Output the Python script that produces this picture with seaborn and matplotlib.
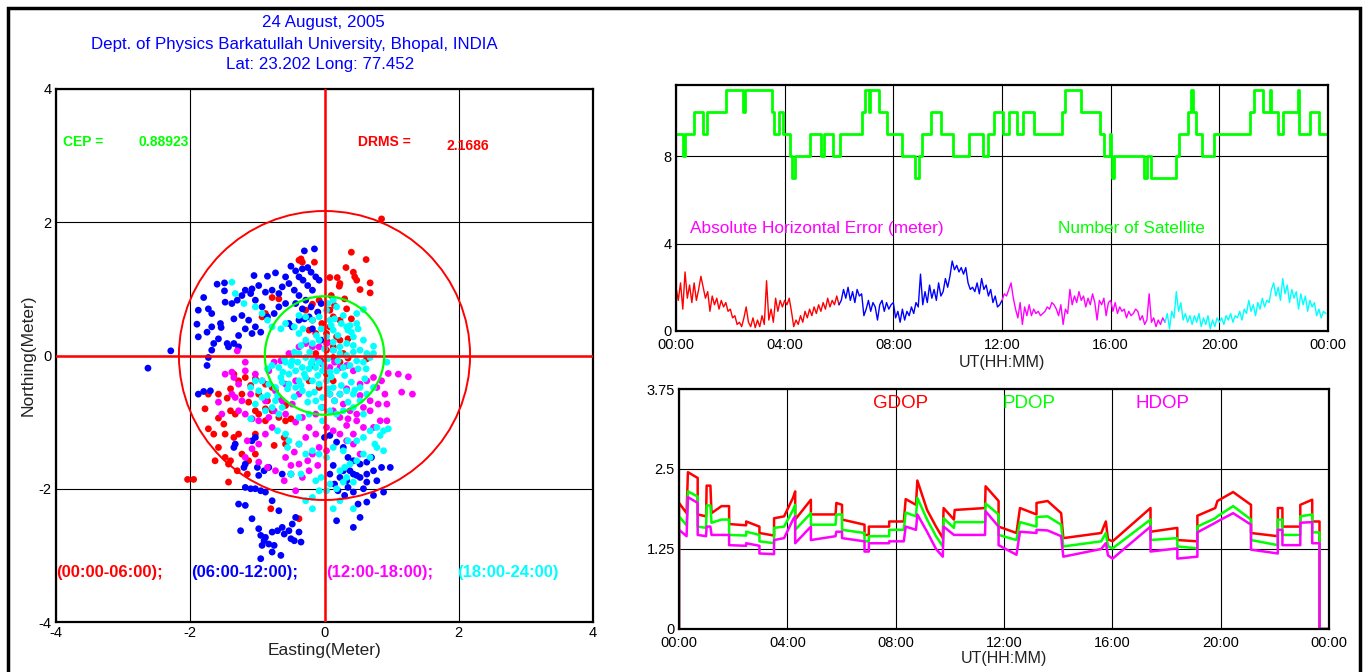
import numpy as np
import pandas as pd
import matplotlib
matplotlib.use("Agg")
import matplotlib.pyplot as plt
import seaborn as sns
from matplotlib.patches import Circle, Rectangle

sns.set_theme(style="white")
plt.rcParams['font.family'] = ['Liberation Sans', 'DejaVu Sans']
plt.rcParams['axes.unicode_minus'] = False

RED, BLUE, MAG, CYAN, GREEN = '#ff0000', '#0000ff', '#ff00ff', '#00ffff', '#00ff00'

# ---------------- scatter data: (Easting, Northing) in metres ----------------
pts_00_06 = [(0.40, 1.55), (0.62, 1.44), (0.32, 1.32), (0.43, 1.25), (0.19, 1.17), (0.08, 1.17),
             (0.23, 1.08), (0.22, 1.04), (0.48, 1.13), (0.68, 1.09), (0.53, 0.99), (0.68, 0.94),
             (0.45, 1.18), (0.33, 0.70), (0.23, 0.53), (0.13, 0.58), (0.08, 0.68), (-0.08, 0.83),
             (-0.18, 0.77), (-0.28, 0.68), (0.18, 0.28), (0.23, 0.23), (0.08, 0.43), (0.03, 0.33),
             (-0.13, 0.33), (-0.23, 0.38), (-0.18, 0.53), (-0.04, 0.48), (0.13, 0.13), (0.28, 0.03),
             (0.35, -0.04), (0.63, -0.05), (-0.33, 1.40), (-0.35, 1.45), (-0.15, 1.40), (-0.38, 1.43),
             (-0.78, 0.87), (-0.68, 0.85), (-0.93, 0.58), (-0.88, 0.63), (0.85, 2.05), (-1.78, -0.80),
             (-1.58, -0.58), (-1.45, -0.64), (-1.40, -0.83), (-1.50, -1.03), (-1.58, -0.94), (-1.73, -1.10),
             (-1.65, -1.18), (-1.48, -1.18), (-1.35, -1.23), (-1.28, -1.18), (-1.58, -1.38), (-1.48, -1.53),
             (-1.40, -1.58), (-1.63, -1.58), (-1.43, -1.63), (-1.30, -1.73), (-1.15, -1.78), (-1.43, -1.90),
             (-2.04, -1.86), (-1.95, -1.86), (-1.33, -0.88), (-1.23, -0.58), (-1.13, -0.70), (-1.03, -0.83),
             (-0.98, -0.88), (-0.88, -0.80), (-0.78, -0.83), (-0.68, -0.93), (-0.58, -0.98), (-0.50, -0.95),
             (-0.58, -0.75), (-0.68, -0.63), (-0.85, -0.68), (-1.28, -0.38), (-1.10, -0.45), (-0.98, -0.58),
             (-1.40, -0.50), (-1.35, -0.28), (-1.18, -0.33), (-1.03, -0.35), (-0.88, -0.43), (-0.78, -0.48),
             (-0.60, -1.23), (-0.75, -1.35), (-0.58, -1.33), (-0.80, -2.30), (-0.38, -2.45), (-1.13, -1.58),
             (-1.03, -1.48), (-1.23, -1.48), (-1.73, -0.58), (-1.03, -1.18), (-0.88, -0.98), (-0.13, 0.03),
             (0.03, 0.08), (-0.05, -0.08), (0.13, -0.03), (-0.18, -0.15), (0.23, -0.10), (0.03, -0.28),
             (-0.08, -0.48), (-0.23, -0.38), (0.13, -0.38), (0.10, 0.90), (0.30, 0.85), (0.40, 0.55),
             (0.05, 0.20), (0.35, 0.25), (-0.10, 0.65), (0.15, 0.75)]

pts_06_12 = [(-0.30, 1.57), (-0.15, 1.60), (-0.50, 1.34), (-0.43, 1.27), (-0.33, 1.30), (-0.25, 1.32),
             (-0.20, 1.25), (-0.13, 1.18), (-0.08, 1.13), (-0.38, 1.18), (-0.32, 1.13), (-0.25, 1.05),
             (-0.18, 0.98), (-0.58, 1.18), (-0.73, 1.24), (-0.85, 1.19), (-1.05, 1.20), (-1.18, 0.98),
             (-1.08, 1.00), (-0.98, 1.05), (-0.88, 0.95), (-0.78, 0.98), (-0.68, 0.93), (-0.63, 1.03),
             (-0.53, 1.08), (-0.45, 0.98), (-0.38, 0.90), (-0.28, 0.83), (-0.20, 0.73), (-0.33, 0.70),
             (-0.43, 0.78), (-0.58, 0.78), (-0.68, 0.73), (-0.75, 0.63), (-0.85, 0.58), (-0.93, 0.73),
             (-1.03, 0.83), (-1.10, 0.93), (-1.23, 0.90), (-1.30, 0.83), (-1.38, 0.78), (-1.48, 0.80),
             (-1.60, 1.07), (-1.49, 1.09), (-1.49, 0.97), (-1.80, 0.87), (-1.88, 0.68), (-1.73, 0.70),
             (-1.68, 0.63), (-1.55, 0.48), (-1.54, 0.42), (-1.68, 0.43), (-1.75, 0.35), (-1.88, 0.28),
             (-1.90, 0.47), (-1.35, 0.55), (-1.23, 0.60), (-1.13, 0.53), (-1.03, 0.43), (-0.95, 0.35),
             (-1.08, 0.33), (-1.18, 0.40), (-1.28, 0.30), (-1.35, 0.18), (-1.45, 0.18), (-1.58, 0.25),
             (-1.65, 0.18), (-1.68, 0.08), (-1.73, -0.03), (-1.75, -0.15), (-2.29, 0.07), (-2.63, -0.19),
             (-1.43, 0.13), (-1.28, 0.13), (-0.53, 0.48), (-0.48, 0.43), (-0.38, 0.53), (-0.30, 0.55),
             (-0.23, 0.58), (-0.10, 0.65), (-0.05, 0.78), (-0.05, 0.23), (-0.18, 0.40), (-1.88, -0.58),
             (-1.80, -0.54), (-1.70, -0.53), (-1.35, -1.38), (-1.33, -1.33), (-1.03, -1.23), (-1.08, -1.28),
             (0.00, -1.23), (0.08, -1.20), (0.18, -1.30), (0.28, -1.38), (0.35, -1.53), (0.43, -1.58),
             (0.53, -1.63), (0.63, -1.60), (0.70, -1.53), (0.73, -1.73), (0.85, -1.68), (0.98, -1.68),
             (0.63, -1.78), (0.53, -1.83), (0.43, -1.78), (0.33, -1.88), (0.23, -1.83), (0.15, -1.93),
             (0.20, -2.03), (0.35, -1.98), (0.43, -2.05), (0.58, -2.00), (0.63, -1.90), (0.78, -1.88),
             (0.88, -2.05), (0.73, -2.10), (0.63, -2.20), (0.50, -2.23), (0.30, -2.10), (0.18, -2.48),
             (0.43, -2.58), (0.53, -2.43), (0.08, -1.78), (0.13, -1.65), (0.28, -1.73), (0.38, -1.73),
             (0.48, -1.80), (-1.18, -1.98), (-1.10, -2.00), (-1.03, -2.00), (-0.95, -2.03), (-0.88, -2.05),
             (-1.28, -2.23), (-1.18, -2.25), (-1.08, -2.45), (-1.25, -2.63), (-0.98, -2.60), (-0.95, -2.70),
             (-0.90, -2.78), (-0.88, -2.73), (-0.83, -2.83), (-0.75, -2.85), (-0.78, -2.65), (-0.70, -2.63),
             (-0.63, -2.58), (-0.60, -2.68), (-0.53, -2.63), (-0.50, -2.75), (-0.45, -2.78), (-0.35, -2.80),
             (-0.38, -2.65), (-0.43, -2.43), (-0.48, -2.53), (-0.93, -2.85), (-0.65, -3.00), (-0.78, -2.95),
             (-0.95, -3.05), (-0.98, -1.80), (-0.90, -1.73), (-0.83, -1.68), (-0.63, -1.78), (-0.50, -1.78),
             (-1.20, -1.68), (-1.18, -1.63), (-1.00, -1.68), (-0.78, -2.18), (-0.68, -2.33)]

pts_12_18 = [(-1.30, 0.07), (-1.18, -0.10), (-1.38, -0.25), (-1.48, -0.28), (-1.58, -0.70), (-1.35, -0.33),
             (-1.28, -0.43), (-1.18, -0.23), (-1.03, -0.28), (-0.93, -0.38), (-0.83, -0.23), (-0.75, -0.10),
             (-0.65, -0.08), (-0.53, 0.03), (-0.38, 0.13), (-0.28, 0.18), (-0.18, 0.13), (-0.10, -0.05),
             (-0.03, -0.13), (0.08, -0.18), (0.15, -0.10), (0.23, -0.18), (0.33, -0.15), (0.43, -0.23),
             (0.63, -0.38), (0.73, -0.33), (0.78, -0.48), (0.85, -0.38), (0.95, -0.27), (1.10, -0.28),
             (1.25, -0.32), (1.15, -0.55), (1.31, -0.58), (0.90, -0.58), (0.80, -0.73), (0.93, -0.73),
             (0.68, -0.83), (0.58, -0.78), (0.48, -0.88), (0.38, -0.83), (0.28, -0.73), (0.15, -0.68),
             (0.08, -0.58), (0.23, -0.58), (0.33, -0.50), (0.13, -0.83), (0.23, -0.93), (0.35, -0.95),
             (0.48, -0.98), (0.58, -1.08), (0.43, -1.18), (0.33, -1.28), (0.23, -1.18), (0.13, -1.13),
             (0.03, -1.08), (-0.13, -1.18), (-0.23, -1.08), (-0.28, -1.23), (-0.38, -1.33), (-0.45, -1.45),
             (-0.58, -1.53), (-0.50, -1.65), (-0.38, -1.63), (-0.25, -1.58), (-0.18, -1.48), (-0.08, -1.38),
             (0.03, -1.43), (-0.10, -1.65), (-0.23, -1.73), (-0.33, -1.83), (-0.43, -2.03), (-0.60, -1.88),
             (-0.73, -1.73), (-0.85, -1.68), (-0.98, -1.60), (-1.18, -1.53), (-1.08, -1.40), (-1.15, -1.28),
             (-0.98, -1.33), (-0.88, -1.18), (-0.78, -1.08), (-1.18, -0.88), (-1.08, -0.95), (-0.98, -0.98),
             (-0.83, -0.93), (-1.23, -0.68), (-1.10, -0.58), (-1.33, -0.63), (-1.38, -0.58), (-1.53, -0.88),
             (-1.28, -0.83), (-0.88, -0.68), (-0.73, -0.53), (-0.58, -0.43), (-0.43, -0.38), (-0.38, -0.58),
             (-0.48, -0.73), (-0.58, -0.88), (-0.43, -1.00), (-0.33, -0.93), (-0.63, -0.68), (-0.75, -0.83),
             (-0.13, -0.88), (-0.03, -0.78), (0.43, -1.33), (0.53, -1.48), (0.33, -1.05), (0.73, -1.08),
             (0.83, -0.98), (0.93, -0.98), (-0.08, 0.13), (0.03, 0.18), (0.13, 0.08), (0.53, -0.43),
             (0.53, -0.60), (0.68, -0.68)]

pts_18_24 = [(-1.38, 1.10), (-1.33, 0.93), (-1.20, 0.78), (-1.03, 0.73), (-0.93, 0.63), (-0.85, 0.53),
             (-0.78, 0.43), (-0.65, 0.40), (-0.58, 0.48), (-0.45, 0.43), (-0.38, 0.33), (-0.28, 0.23),
             (-0.18, 0.18), (-0.08, 0.23), (0.03, 0.28), (0.13, 0.20), (0.23, 0.13), (0.33, 0.18),
             (0.43, 0.28), (0.58, 0.69), (0.48, 0.48), (0.35, 0.38), (0.53, 0.08), (0.63, 0.03),
             (0.73, 0.14), (0.43, 0.05), (0.33, 0.00), (0.23, 0.03), (0.13, 0.08), (0.03, -0.03),
             (-0.08, -0.10), (-0.18, -0.08), (-0.28, -0.03), (-0.38, 0.03), (-0.48, -0.08), (-0.58, -0.10),
             (-0.68, -0.18), (-0.78, -0.15), (-0.85, -0.20), (-0.65, -0.33), (-0.53, -0.28), (-0.43, -0.23),
             (-0.33, -0.18), (-0.23, -0.20), (-0.13, -0.18), (-0.03, -0.23), (0.08, -0.25), (0.18, -0.23),
             (0.28, -0.18), (0.38, -0.15), (0.48, -0.08), (0.58, -0.10), (0.68, -0.03), (0.93, -0.10),
             (-0.38, -0.38), (-0.28, -0.33), (-0.18, -0.38), (-0.08, -0.43), (0.03, -0.38), (0.13, -0.48),
             (0.23, -0.58), (0.33, -0.53), (0.43, -0.58), (0.53, -0.48), (0.08, -0.58), (-0.03, -0.63),
             (-0.13, -0.68), (-0.23, -0.58), (-0.33, -0.53), (-0.43, -0.48), (-0.53, -0.43), (-0.63, -0.40),
             (-0.73, -0.48), (-0.83, -0.43), (-0.93, -0.38), (-1.03, -0.38), (-1.10, -0.48), (-0.98, -0.53),
             (-0.85, -0.60), (-0.73, -0.68), (-0.63, -0.78), (-0.68, -0.88), (-0.78, -0.78), (-0.88, -0.83),
             (-0.93, -0.63), (-1.03, -0.73), (-1.10, -0.95), (-0.70, -1.13), (-0.58, -1.18), (-0.53, -1.28),
             (-0.38, -1.33), (-0.28, -1.48), (-0.18, -1.43), (-0.08, -1.48), (0.03, -1.53), (0.13, -1.38),
             (0.28, -1.43), (0.35, -1.28), (0.48, -1.28), (0.58, -1.23), (0.68, -1.13), (0.78, -1.08),
             (0.88, -1.13), (0.95, -1.10), (0.83, -1.20), (0.75, -1.33), (0.78, -1.38), (0.88, -1.43),
             (0.68, -1.53), (0.58, -1.48), (0.48, -1.58), (0.38, -1.63), (0.30, -1.68), (0.23, -1.73),
             (0.33, -1.83), (0.43, -1.90), (0.28, -1.90), (0.18, -2.00), (0.08, -1.93), (-0.05, -1.83),
             (-0.13, -1.88), (-0.08, -2.03), (0.03, -2.03), (-0.18, -2.13), (-0.28, -2.18), (-0.18, -2.30),
             (0.13, -2.30), (0.23, -2.18), (0.43, -2.30), (-0.35, -1.78), (-0.50, -1.78), (-0.55, -1.38),
             (-0.38, -0.93), (-0.23, -0.88), (-0.03, -0.98), (0.08, -0.83), (0.18, -0.88), (0.28, -0.83),
             (0.43, -0.78), (0.58, -0.88), (0.53, -0.68), (0.63, -0.58), (0.73, -0.48), (0.13, 0.83),
             (0.18, 0.73), (0.03, 0.68), (-0.08, 0.58), (-0.18, 0.53), (-0.28, 0.58), (-0.38, 0.60),
             (0.08, 0.53), (0.25, 0.48), (0.38, 0.45), (0.13, 0.38), (0.43, 0.15), (0.15, 0.55),
             (0.48, 0.63), (0.05, 0.78), (0.33, 0.43), (0.58, 0.23), (0.73, 0.03),
             (-0.60, -0.05), (-0.50, -0.15), (-0.40, -0.10), (-0.30, -0.28), (-0.20, -0.12), (-0.10, -0.30),
             (0.00, -0.15), (0.10, -0.32), (0.20, -0.08), (0.30, -0.30), (0.40, -0.40), (0.50, -0.20),
             (0.60, -0.35), (-0.55, -0.50), (-0.45, -0.62), (-0.35, -0.45), (-0.25, -0.70), (-0.15, -0.55),
             (-0.05, -0.78), (0.05, -0.50), (0.15, -0.68), (0.25, -0.45), (0.35, -0.70), (0.45, -0.52),
             (-0.70, -0.60), (-0.62, -0.25), (-0.45, 0.05), (-0.35, 0.15), (-0.22, 0.05), (-0.12, 0.30),
             (0.00, 0.10), (0.10, 0.45), (0.20, 0.30), (0.28, 0.60), (0.40, 0.35), (0.50, 0.40),
             (-0.05, 0.40), (-0.32, 0.40), (0.62, -0.20), (0.05, -0.05)]

period_labels = ["(00:00-06:00);", "(06:00-12:00);", "(12:00-18:00);", "(18:00-24:00)"]
period_colors = [RED, BLUE, MAG, CYAN]
CEP = 0.88923
DRMS = 2.1686

# ---------------- absolute horizontal error, 5-minute samples per 6 h block ----------------
err_00_06 = [2.0, 1.4, 2.2, 1.0, 2.7, 1.5, 2.1, 1.3, 2.2, 1.4, 1.9, 2.5,
             2.0, 1.5, 1.8, 0.9, 1.6, 1.2, 1.5, 1.0, 1.4, 1.1, 1.3, 0.9,
             1.0, 0.6, 0.7, 0.3, 0.4, 0.2, 0.6, 1.1, 0.4, 0.2, 0.6, 0.15,
             0.5, 0.2, 0.7, 0.3, 2.3, 0.5, 1.0, 0.4, 1.5, 0.9, 1.4, 1.1,
             1.4, 1.2, 1.5, 0.9, 0.2, 0.5, 0.3, 0.7, 0.4, 0.9, 0.6, 1.0,
             0.7, 1.1, 0.8, 1.2, 0.9, 1.3, 1.0, 1.5, 1.1, 1.4, 1.2, 1.6]
err_06_12 = [1.2, 1.4, 1.9, 1.5, 2.0, 1.4, 1.8, 1.3, 1.9, 1.6, 1.7, 0.7,
             1.0, 1.4, 0.9, 1.3, 1.1, 0.5, 1.2, 1.4, 0.9, 1.3, 1.0, 1.2,
             1.3, 0.6, 0.9, 0.4, 1.0, 0.5, 0.9, 0.7, 1.1, 0.8, 1.3, 1.1,
             2.6, 1.2, 1.8, 1.3, 2.1, 1.5, 1.9, 1.4, 2.2, 1.6, 1.8, 2.4,
             2.0, 2.5, 3.2, 2.8, 3.0, 2.7, 2.9, 2.6, 2.9, 2.2, 1.9, 2.0,
             1.8, 2.2, 1.7, 2.4, 1.9, 2.1, 1.6, 1.9, 1.3, 1.6, 1.1, 1.2]
err_12_18 = [1.4, 1.7, 1.6, 1.9, 2.2, 1.5, 1.0, 0.6, 1.3, 0.3, 1.1, 0.7,
             1.2, 0.7, 1.0, 0.8, 0.9, 0.7, 0.8, 0.9, 1.1, 1.0, 1.3, 1.2,
             1.0, 0.7, 1.2, 0.3, 1.0, 0.8, 1.9, 1.2, 1.6, 1.3, 1.8, 1.4,
             1.6, 1.1, 1.5, 1.2, 1.7, 1.3, 0.5, 1.4, 1.2, 1.5, 0.7, 1.3,
             1.4, 0.9, 1.3, 0.8, 1.1, 0.9, 1.0, 0.6, 0.9, 0.7, 0.8, 1.0,
             0.9, 0.5, 0.7, 0.3, 0.5, 1.7, 0.4, 0.6, 0.2, 0.5, 0.3, 0.6]
err_18_24 = [0.4, 0.8, 0.1, 0.9, 0.6, 1.8, 0.9, 1.3, 0.5, 0.8, 0.4, 0.7,
             0.3, 0.7, 0.4, 0.8, 0.2, 0.6, 0.3, 0.7, 0.1, 0.5, 0.2, 0.6,
             0.4, 0.6, 0.3, 0.7, 0.5, 0.8, 0.4, 0.7, 0.6, 0.9, 0.5, 1.0,
             0.8, 1.4, 0.9, 1.2, 0.7, 1.3, 1.0, 1.5, 1.1, 1.4, 1.3, 1.9,
             2.2, 1.6, 2.0, 1.4, 2.4, 1.7, 2.1, 1.3, 1.9, 1.5, 1.8, 1.0,
             1.7, 1.2, 1.6, 0.9, 1.4, 1.1, 1.3, 0.7, 1.0, 0.6, 0.9, 0.8]
err_step_h = 5 / 60.0

# ---------------- number of satellites (change times, hours) ----------------
sat_time = [0.0, 0.246, 0.344, 0.656, 0.984, 1.148, 1.854, 2.477, 2.543, 3.527, 3.625, 3.789,
            3.953, 4.183, 4.282, 4.364, 4.921, 5.348, 5.463, 5.791, 6.037, 6.857, 6.939, 7.103,
            7.152, 7.480, 7.759, 8.333, 8.793, 8.940, 9.039, 9.400, 9.761, 10.187, 10.794, 11.286,
            11.499, 11.696, 12.024, 12.270, 12.566, 12.763, 13.173, 14.206, 14.321, 14.895, 15.600, 15.764,
            15.961, 16.010, 16.06, 16.14, 17.224, 17.355, 17.487, 18.422, 18.504, 18.832, 18.963, 19.045,
            19.127, 19.373, 19.816, 21.129, 21.293, 21.621, 21.867, 21.916, 22.146, 22.359, 22.884, 22.933,
            23.343, 23.671, 24.0]
sat_count = [9, 8, 9, 10, 9, 10, 11, 10, 11, 10, 9, 10,
             9, 8, 7, 8, 9, 8, 9, 8, 9, 10, 11, 10,
             11, 10, 9, 8, 7, 8, 9, 10, 9, 8, 9, 8,
             9, 10, 9, 10, 9, 10, 9, 10, 11, 10, 9, 8,
             9, 8, 7, 8, 7, 8, 7, 8, 9, 10, 11, 10,
             9, 8, 9, 10, 11, 10, 11, 10, 9, 10, 11, 9,
             10, 9, 9]

# ---------------- DOP values ----------------
dop_time = [0.00, 0.00, 0.28, 0.33, 0.69, 0.69, 1.00, 1.02, 1.16, 1.20, 1.57, 1.85,
            1.85, 2.48, 2.48, 2.97, 2.97, 3.51, 3.51, 3.88, 4.21, 4.29, 4.29, 4.87,
            4.87, 5.78, 5.81, 6.02, 6.02, 6.85, 6.85, 7.01, 7.01, 7.76, 7.76, 8.30,
            8.37, 8.75, 8.80, 9.16, 9.49, 9.74, 9.77, 10.15, 10.18, 11.30, 11.32, 11.80,
            11.80, 12.46, 12.59, 13.20, 13.20, 13.61, 14.11, 14.19, 15.59, 15.76, 15.84, 16.01,
            17.41, 17.41, 18.40, 18.40, 19.14, 19.14, 19.80, 19.88, 20.46, 21.12, 21.12, 22.11,
            22.11, 22.28, 22.28, 22.94, 22.94, 23.38, 23.38, 23.65, 23.65, 24.00]
gdop = [0.00, 1.97, 1.81, 2.45, 2.36, 1.79, 1.76, 2.24, 2.24, 1.81, 1.92, 1.92,
        1.64, 1.62, 1.68, 1.60, 1.50, 1.46, 1.73, 1.76, 2.05, 2.15, 1.71, 2.02,
        1.79, 1.79, 1.97, 1.94, 1.71, 1.63, 1.47, 1.47, 1.60, 1.60, 1.68, 1.68,
        2.03, 1.94, 2.32, 1.86, 1.60, 1.42, 1.89, 1.71, 1.86, 1.89, 2.23, 2.00,
        1.60, 1.50, 1.89, 1.79, 1.97, 2.00, 1.81, 1.42, 1.50, 1.68, 1.40, 1.37,
        1.89, 1.52, 1.58, 1.39, 1.37, 1.77, 1.89, 2.00, 2.14, 1.94, 1.50, 1.45,
        1.89, 1.89, 1.60, 1.60, 1.94, 2.02, 1.68, 1.68, 0.00, 0.00]
pdop = [0.00, 1.76, 1.62, 2.15, 2.07, 1.60, 1.58, 1.93, 1.93, 1.66, 1.71, 1.71,
        1.47, 1.46, 1.52, 1.47, 1.37, 1.34, 1.58, 1.60, 1.86, 1.94, 1.55, 1.81,
        1.63, 1.63, 1.79, 1.79, 1.55, 1.50, 1.37, 1.37, 1.45, 1.45, 1.55, 1.55,
        1.82, 1.76, 2.05, 1.71, 1.45, 1.29, 1.73, 1.58, 1.67, 1.67, 1.96, 1.79,
        1.47, 1.39, 1.67, 1.60, 1.75, 1.76, 1.63, 1.29, 1.37, 1.50, 1.29, 1.26,
        1.71, 1.39, 1.42, 1.29, 1.26, 1.60, 1.73, 1.76, 1.92, 1.71, 1.39, 1.31,
        1.71, 1.71, 1.47, 1.47, 1.76, 1.79, 1.51, 1.51, 0.00, 0.00]
hdop = [0.00, 1.55, 1.45, 2.06, 1.97, 1.47, 1.45, 1.60, 1.60, 1.47, 1.47, 1.47,
        1.31, 1.30, 1.34, 1.30, 1.18, 1.17, 1.39, 1.42, 1.71, 1.76, 1.34, 1.60,
        1.39, 1.45, 1.52, 1.52, 1.42, 1.37, 1.21, 1.21, 1.34, 1.34, 1.37, 1.37,
        1.60, 1.55, 1.79, 1.52, 1.25, 1.13, 1.60, 1.47, 1.47, 1.47, 1.84, 1.60,
        1.31, 1.16, 1.52, 1.50, 1.55, 1.54, 1.45, 1.13, 1.25, 1.34, 1.15, 1.10,
        1.60, 1.21, 1.26, 1.10, 1.13, 1.51, 1.66, 1.68, 1.81, 1.63, 1.24, 1.18,
        1.55, 1.55, 1.31, 1.31, 1.66, 1.67, 1.34, 1.34, 0.00, 0.00]

time_ticks = [0, 4, 8, 12, 16, 20, 24]
time_labels = ["00:00", "04:00", "08:00", "12:00", "16:00", "20:00", "00:00"]

# ---------------- figure ----------------
W, H = 1367, 672
fig = plt.figure(figsize=(W / 100, H / 100), dpi=100)
fig.patch.set_facecolor('white')

def fx(px):
    return px / W

def fy(py):
    return 1 - py / H

def style_axes(ax, xpad=3):
    for s in ax.spines.values():
        s.set_color('black')
        s.set_linewidth(1.6)
    ax.tick_params(direction='in', length=4, width=1, colors='black', labelsize=10.5, pad=3)
    ax.tick_params(axis='x', pad=xpad)
    ax.set_facecolor('white')

# ---- left scatter panel ----
axL = fig.add_axes([fx(56), fy(622), fx(593) - fx(56), fy(89) - fy(622)])
frames = []
for pts, lab in zip([pts_00_06, pts_06_12, pts_12_18, pts_18_24], period_labels):
    arr = np.array(pts)
    frames.append(pd.DataFrame({'E': arr[:, 0], 'N': arr[:, 1], 'period': lab}))
df_sc = pd.concat(frames, ignore_index=True)
sns.scatterplot(data=df_sc, x='E', y='N', hue='period', hue_order=period_labels,
                palette=period_colors, s=24, linewidth=0, legend=False, ax=axL, zorder=3)
axL.set_xlim(-4, 4)
axL.set_ylim(-4, 4)
axL.set_xticks([-4, -2, 0, 2, 4])
axL.set_yticks([-4, -2, 0, 2, 4])
axL.grid(True, color='black', lw=0.8)
axL.set_axisbelow(True)
axL.axhline(0, color=RED, lw=1.8, zorder=4)
axL.axvline(0, color=RED, lw=1.8, zorder=4)
axL.add_patch(Circle((0, 0), DRMS, fill=False, ec=RED, lw=1.4, zorder=5))
axL.add_patch(Circle((0, 0), CEP, fill=False, ec=GREEN, lw=1.6, zorder=5))
axL.set_xlabel('Easting(Meter)', fontsize=12.5, color='#222222', labelpad=2)
axL.set_ylabel('Northing(Meter)', fontsize=12.5, color='#222222', labelpad=2)
style_axes(axL)
axL.text(-3.9, 3.2, 'CEP =', color=GREEN, fontsize=10, fontweight='bold', va='center')
axL.text(-2.77, 3.2, f'{CEP:.5f}', color=GREEN, fontsize=10, fontweight='bold', va='center')
axL.text(0.5, 3.2, 'DRMS =', color=RED, fontsize=10, fontweight='bold', va='center')
axL.text(1.82, 3.15, f'{DRMS:.4f}', color=RED, fontsize=10, fontweight='bold', va='center')
for xpos, lab, c in zip([-4.0, -1.98, 0.02, 1.98], period_labels, period_colors):
    axL.text(xpos, -3.25, lab, color=c, fontsize=12, fontweight='bold', va='center')

# ---- title ----
fig.text(fx(323), fy(22), '24 August, 2005', color=BLUE, fontsize=12.2, ha='center', va='center')
fig.text(fx(294), fy(44), 'Dept. of Physics Barkatullah University, Bhopal, INDIA', color=BLUE,
         fontsize=12.2, ha='center', va='center')
fig.text(fx(320), fy(65), 'Lat: 23.202 Long: 77.452', color=BLUE, fontsize=12.2, ha='center', va='center')

# ---- top-right: error + satellites ----
axT = fig.add_axes([fx(676), fy(331), fx(1328) - fx(676), fy(85) - fy(331)])
err_blocks = [err_00_06, err_06_12, err_12_18, err_18_24]
for i, (blk, c) in enumerate(zip(err_blocks, period_colors)):
    t = list(i * 6 + np.arange(len(blk)) * err_step_h)
    v = list(blk)
    if i < 3:
        t.append((i + 1) * 6)
        v.append(err_blocks[i + 1][0])
    sns.lineplot(x=t, y=v, color=c, lw=1.0, estimator=None, sort=False, ax=axT)
sns.lineplot(x=sat_time, y=sat_count, color=GREEN, lw=2.0, drawstyle='steps-post',
             estimator=None, sort=False, ax=axT)
axT.set_xlim(0, 24)
axT.set_ylim(0, 11.25)
axT.set_xticks(time_ticks)
axT.set_xticklabels(time_labels)
axT.set_yticks([0, 4, 8])
axT.grid(True, color='black', lw=0.8)
axT.set_axisbelow(True)
style_axes(axT, xpad=5)
axT.set_xlabel('UT(HH:MM)', fontsize=11.5, color='#222222', labelpad=2)
axT.set_ylabel('')
axT.text(0.52, 4.7, 'Absolute Horizontal Error (meter)', color=MAG, fontsize=12.4, va='center')
axT.text(14.06, 4.7, 'Number of Satellite', color=GREEN, fontsize=12.4, va='center')

# ---- bottom-right: DOP ----
axB = fig.add_axes([fx(679), fy(629), fx(1329) - fx(679), fy(389) - fy(629)])
for vals, c in zip([gdop, pdop, hdop], [RED, GREEN, MAG]):
    sns.lineplot(x=dop_time, y=vals, color=c, lw=1.8, estimator=None, sort=False, ax=axB)
axB.set_xlim(0, 24)
axB.set_ylim(0, 3.75)
axB.set_xticks(time_ticks)
axB.set_xticklabels(time_labels)
axB.set_yticks([0, 1.25, 2.5, 3.75])
axB.set_yticklabels(['0', '1.25', '2.5', '3.75'])
axB.grid(True, color='black', lw=0.8)
axB.set_axisbelow(True)
style_axes(axB, xpad=5)
axB.set_xlabel('UT(HH:MM)', fontsize=11.5, color='#222222', labelpad=1)
axB.set_ylabel('')
axB.text(7.16, 3.53, 'GDOP', color=RED, fontsize=13.5, va='center')
axB.text(11.96, 3.53, 'PDOP', color=GREEN, fontsize=13.5, va='center')
axB.text(16.84, 3.53, 'HDOP', color=MAG, fontsize=13.5, va='center')

# ---- outer frame ----
fig.add_artist(Rectangle((fx(8), -0.01), fx(1360) - fx(8), fy(8) + 0.01, transform=fig.transFigure,
                         fill=False, ec='black', lw=2.5))

fig.savefig('out.png', dpi=100, facecolor='white')
